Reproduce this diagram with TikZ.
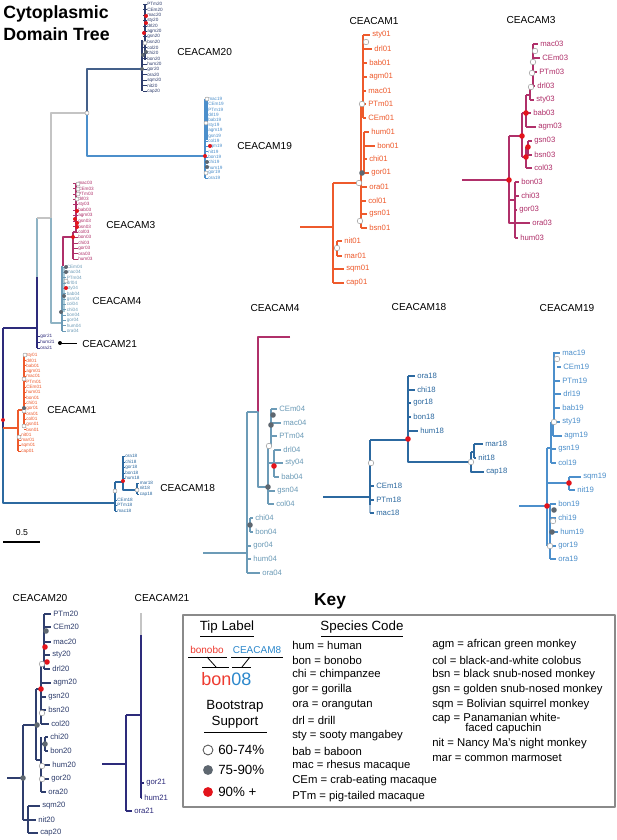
\documentclass[tikz,border=0pt]{standalone}
\usepackage{fontspec}
\setmainfont{Liberation Sans}
\definecolor{cA}{HTML}{EE5A2C}
\definecolor{cB}{HTML}{B0306A}
\definecolor{cC}{HTML}{6C9BB7}
\definecolor{cD}{HTML}{2C69A0}
\definecolor{cE}{HTML}{4C8FCB}
\definecolor{cF}{HTML}{2F3E6D}
\definecolor{cG}{HTML}{2D2B7B}
\definecolor{cS}{HTML}{44608A}
\definecolor{cL}{HTML}{C4C4C4}
\definecolor{cT}{HTML}{8FB3C4}
\definecolor{cTb}{HTML}{A9CBD9}
\definecolor{dg}{HTML}{5E6770}
\definecolor{dr}{HTML}{E3141B}
\definecolor{kred}{HTML}{EE3B30}
\definecolor{kblue}{HTML}{2C88CC}
\definecolor{kbox}{HTML}{8A8A8A}
\begin{document}
\begin{tikzpicture}[x=0.75pt,y=-0.75pt,line join=round]
\tikzset{
 ttl/.style={font=\fontsize{7.6}{9}\selectfont,inner sep=0},
 clab/.style={font=\fontsize{7.6}{9}\selectfont,inner sep=0,anchor=west},
 ptip/.style={font=\fontsize{5.8}{7}\selectfont,inner sep=0,anchor=west},
 mtip/.style={font=\fontsize{3.5}{4}\selectfont,inner sep=0,anchor=west},
 br/.style={line width=1.25pt},
 mb/.style={line width=0.9pt},
 stb/.style={line width=0.9pt},
 mst/.style={line width=0.35pt},
 wd/.style={fill=white,draw=gray!75,line width=0.4pt},
 gd/.style={fill=dg},
 rd/.style={fill=dr},
 ktxt/.style={font=\fontsize{8.5}{10}\selectfont,inner sep=0,anchor=west},
 khd/.style={font=\fontsize{10}{12}\selectfont,inner sep=0,align=center},
}
\fill[white] (0,0) rectangle (617,840);
\path[use as bounding box] (0,0) rectangle (617,840);

% ================= title
\node[font=\bfseries\fontsize{13.3}{16.5}\selectfont,align=left,anchor=north west,inner sep=0] (title) at (3,5) {Cytoplasmic\\Domain Tree};

% ================= main tree
\draw[mb,cG] (3,328) -- (3,428);
\draw[mb,cD] (3,428) -- (3,503) -- (115,503);
\draw[mb,cG] (3,328) -- (37,328);
\draw[mb,cT] (37,218) -- (37,277);
\draw[mb,cG] (37,277) -- (37,348);
\draw[mb,cL] (37,218) -- (51,218);
\draw[mb,cL] (51,218) -- (51,113) -- (87,113);
\draw[mb,cT] (51,218) -- (51,323) -- (62,323);
\draw[mb,cS] (87,113) -- (87,69) -- (142,69);
\draw[mb,cE] (87,113) -- (87,156) -- (205,156);
% CEACAM20 clade
\draw[mb,cF] (142,40) -- (142,91);
\draw[mb,cF] (145,4) -- (145,60);
\foreach \lab [count=\i from 0] in {PTm20,CEm20,mac20,sty20,drl20,agm20,gsn20,bsn20,col20,chi20,bon20,hum20,gor20,ora20,sqm20,nit20,cap20}{
  \pgfmathsetmacro\yy{4+\i*5.44}
  \draw[mst,cF] (143,\yy) -- (146.5,\yy);
  \node[mtip,text=cF] (m-\lab) at (147,\yy) {\lab};
}
% CEACAM19 clade
\draw[mb,cE] (205,99) -- (205,178);
\draw[mb,cE] (207,99) -- (207,140);
\foreach \lab [count=\i from 0] in {mac19,CEm19,PTm19,drl19,bab19,sty19,agm19,gsn19,col19,sqm19,nit19,bon19,chi19,hum19,gor19,ora19}{
  \pgfmathsetmacro\yy{99+\i*5.27}
  \draw[mst,cE] (205,\yy) -- (207.5,\yy);
  \node[mtip,text=cE] (m-\lab) at (208,\yy) {\lab};
}
% CEACAM3 clade
\draw[mb,cB] (63,266) -- (63,237) -- (73,237);
\draw[mb,cB] (76,183) -- (76,232) -- (73,232);
\draw[mb,cB] (73,232) -- (73,259);
\foreach \lab [count=\i from 0] in {mac03,CEm03,PTm03,drl03,sty03,bab03,agm03,gsn03,bsn03,col03,bon03,chi03,gor03,ora03,hum03}{
  \pgfmathsetmacro\yy{183+\i*5.43}
  \draw[mst,cB] (73,\yy) -- (77.5,\yy);
  \node[mtip,text=cB] (m-\lab) at (78,\yy) {\lab};
}
% CEACAM4 clade
\draw[line width=2.4pt,cTb] (63.5,267) -- (63.5,312);
\draw[mb,cC] (62,266) -- (62,331);
\foreach \lab [count=\i from 0] in {CEm04,mac04,PTm04,drl04,sty04,bab04,gsn04,col04,chi04,bon04,gor04,hum04,ora04}{
  \pgfmathsetmacro\yy{267+\i*5.33}
  \draw[mst,cC] (62,\yy) -- (66,\yy);
  \node[mtip,text=cC] (m-\lab) at (66.5,\yy) {\lab};
}
% CEACAM21 clade
\foreach \lab/\yy in {gor21/336,hum21/342,ora21/348}{
  \draw[mst,cG] (37,\yy) -- (39.5,\yy);
  \node[mtip,text=cG] (m-\lab) at (40,\yy) {\lab};
}
% CEACAM1 clade
\draw[mb,cA] (3,428) -- (18,428);
\draw[mb,cA] (18,410) -- (18,451);
\draw[mb,cA] (18,410) -- (24,410);
\draw[mb,cA] (24,355) -- (24,428);
\foreach \lab [count=\i from 0] in {sty01,drl01,bab01,agm01,mac01,PTm01,CEm01,hum01,bon01,chi01,gor01,ora01,col01,gsn01,bsn01}{
  \pgfmathsetmacro\yy{355+\i*5.33}
  \draw[mst,cA] (24,\yy) -- (25.5,\yy);
  \node[mtip,text=cA] (m-\lab) at (26,\yy) {\lab};
}
\foreach \lab [count=\i from 15] in {nit01,mar01,sqm01,cap01}{
  \pgfmathsetmacro\yy{355+\i*5.33}
  \draw[mst,cA] (18,\yy) -- (20.5,\yy);
  \node[mtip,text=cA] (m-\lab) at (21,\yy) {\lab};
}
% CEACAM18 clade
\draw[mb,cD] (115,482) -- (115,511);
\draw[mb,cD] (115,482) -- (123,482);
\draw[mb,cD] (123,456) -- (123,490) -- (137,490);
\draw[mb,cD] (137,483) -- (137,494);
\foreach \lab/\yy/\vx/\lx in {ora18/456/123/125,chi18/462/123/125,gor18/467/123/125,bon18/473/123/125,hum18/478/123/125,mar18/483/137/139.5,nit18/488/137/139.5,cap18/494/137/139.5,CEm18/500/115/117,PTm18/505/115/117,mac18/511/115/117}{
  \draw[mst,cD] (\vx,\yy) -- ({\lx-0.5},\yy);
  \node[mtip,text=cD] (m-\lab) at (\lx,\yy) {\lab};
}
% main dots
\foreach \p in {(87,113),(145,43),(207,99),(206,123),(206,173),(78,184),(78,189),(78,194),(77,199),(66,281),(25,355),(24,379),(24,411),(24,426),(19,437),(115,491),(137,490)}
  \path[wd] \p circle[radius=1.5pt];
\foreach \p in {(146,52),(143,55),(142,69),(207,162),(207,167),(66,267),(66,272),(64,296),(61,312),(24,408)}
  \path[gd] \p circle[radius=1.5pt];
\foreach \p in {(146,16),(146,23),(144,33),(210,146),(205,156),(77,211),(75,219),(77,223),(77,227),(73,237),(66,288),(3,420),(123,481)}
  \path[rd] \p circle[radius=1.5pt];
% clade labels
\node[clab] (l20) at (177,52) {CEACAM20};
\node[clab] (l19) at (237,146) {CEACAM19};
\node[clab] (l3) at (106,225) {CEACAM3};
\node[clab] (l4) at (92,301) {CEACAM4};
\node[fill=black,circle,inner sep=0,minimum size=3pt] (d21) at (60,343) {};
\node[clab] (l21) at (82,344) {CEACAM21};
\draw[line width=0.7pt] (d21.center) -- (77,343);
\node[clab] (l1) at (47,410) {CEACAM1};
\node[clab] (l18) at (160,488) {CEACAM18};
% scale bar
\node[font=\fontsize{6.5}{8}\selectfont,inner sep=0] (sc) at (22,533) {0.5};
\draw[line width=0.8pt] (3,542) -- (40,542);

% ================= CEACAM1 panel
\node[ttl] (t1) at (374,21) {CEACAM1};
\draw[br,cA] (300,227) -- (333,227);
\draw[br,cA] (333,183) -- (333,283);
\draw[br,cA] (333,183) -- (361,183);
\draw[br,cA] (361,104) -- (361,228);
\draw[br,cA] (363,35) -- (363,118);
\draw[br,cA] (361,104) -- (363,104);
\draw[br,cA] (364,132) -- (364,173) -- (361,173);
\draw[br,cA] (333,248) -- (337,248);
\draw[br,cA] (337,241) -- (337,256);
\foreach \lab/\yy/\vx/\lx in {sty01/35/363/372,drl01/49/363/374,bab01/63/363/369,agm01/77/363/369,mac01/91/363/368,PTm01/104/361/368,CEm01/118/363/368,hum01/132/364/371,bon01/146/364/377,chi01/159/364/369,gor01/173/364/371,ora01/187/361/369,col01/201/361/368,gsn01/214/361/369,bsn01/228/361/369,nit01/241/337/344,mar01/256/337/344,sqm01/269/333/346,cap01/283/333/346}{
  \draw[stb,cA] (\vx,\yy) -- ({\lx-2},\yy);
  \node[ptip,text=cA] (p-\lab) at (\lx,\yy) {\lab};
}
\foreach \p in {(366,42),(362,104),(359,183),(360,221),(337,248)}
  \path[wd] \p circle[radius=2.1pt];
\path[gd] (362,173) circle[radius=2.1pt];

% ================= CEACAM3 panel
\node[ttl] (t3) at (531,20) {CEACAM3};
\draw[br,cB] (462,180) -- (509,180);
\draw[br,cB] (509,136) -- (509,223) -- (530,223);
\draw[br,cB] (509,200) -- (515,200);
\draw[br,cB] (515,182) -- (515,238);
\draw[br,cB] (509,136) -- (522,136);
\draw[br,cB] (522,113) -- (522,157);
\draw[br,cB] (522,113) -- (526,113);
\draw[br,cB] (526,95) -- (526,127);
\draw[br,cB] (526,95) -- (530,95);
\draw[br,cB] (530,87) -- (530,100);
\draw[br,cB] (533,44) -- (533,87) -- (530,87);
\draw[br,cB] (522,157) -- (526,157);
\draw[br,cB] (526,147) -- (526,168);
\draw[br,cB] (526,147) -- (528,147);
\draw[br,cB] (528,141) -- (528,155);
\foreach \lab/\yy/\vx/\lx in {mac03/44/533/540,CEm03/58/533/542,PTm03/72/533/539,drl03/86/533/537,sty03/100/530/536,bab03/113/526/533,agm03/127/526/538,gsn03/141/528/534,bsn03/155/528/534,col03/168/526/534,bon03/182/515/521,chi03/196/515/521,gor03/210/515/519,ora03/223/530/532,hum03/238/515/520}{
  \draw[stb,cB] (\vx,\yy) -- ({\lx-2},\yy);
  \node[ptip,text=cB] (p-\lab) at (\lx,\yy) {\lab};
}
\foreach \p in {(535,51),(533,62),(532,73),(531,87)}
  \path[wd] \p circle[radius=2.1pt];
\foreach \p in {(509,180),(522,136),(526,113),(528,147),(526,157)}
  \path[rd] \p circle[radius=2.1pt];

% ================= CEACAM4 panel
\node[ttl] (t4) at (275,308) {CEACAM4};
\draw[br,cB] (290,337) -- (258,337) -- (258,412);
\draw[br,cC] (247,412) -- (258,412) -- (258,487) -- (268,487);
\draw[br,cC] (203,553) -- (247,553);
\draw[br,cC] (247,412) -- (247,573);
\draw[br,cC] (268,446) -- (268,504);
\draw[br,cC] (268,446) -- (271,446);
\draw[br,cC] (271,409) -- (271,446);
\draw[br,cC] (268,463) -- (274,463);
\draw[br,cC] (274,450) -- (274,477);
\draw[br,cC] (247,525) -- (250,525);
\draw[br,cC] (250,518) -- (250,532);
\foreach \lab/\yy/\vx/\lx in {CEm04/409/271/279,mac04/423/271/283,PTm04/436/271/279,drl04/450/274/283,sty04/463/274/285,bab04/477/274/281,gsn04/491/268/277,col04/504/268/276,chi04/518/250/255,bon04/532/250/255,gor04/546/247/253,hum04/559/247/253,ora04/573/247/262}{
  \draw[stb,cC] (\vx,\yy) -- ({\lx-2},\yy);
  \node[ptip,text=cC] (p-\lab) at (\lx,\yy) {\lab};
}
\foreach \p in {(273,415),(271,425),(268,487),(250,525)}
  \path[gd] \p circle[radius=2.1pt];
\path[wd] (269,446) circle[radius=2.1pt];
\path[rd] (274,466) circle[radius=2.1pt];

% ================= CEACAM18 panel
\node[ttl] (t18) at (419,307) {CEACAM18};
\draw[br,cD] (323,497) -- (370,497);
\draw[br,cD] (370,440) -- (370,505);
\draw[br,cD!45] (370,505) -- (370,513);
\draw[br,cD] (370,440) -- (408,440);
\draw[br,cD] (408,376) -- (408,462) -- (471,462);
\draw[br,cD] (471,452) -- (471,472) -- (483,472);
\draw[br,cD] (471,452) -- (474,452);
\draw[br,cD] (474,444) -- (474,458);
\foreach \lab/\yy/\vx/\lx in {ora18/376/408/417,chi18/390/408/417,gor18/403/408/413,bon18/417/408/413,hum18/431/408/420,mar18/444/474/485,nit18/458/474/478,cap18/472/471/486,CEm18/486/370/376,PTm18/500/370/376,mac18/513/370/376}{
  \draw[stb,cD] (\vx,\yy) -- ({\lx-2},\yy);
  \node[ptip,text=cD] (p-\lab) at (\lx,\yy) {\lab};
}
\path[wd] (371,463) circle[radius=2.1pt];
\path[wd] (471,462) circle[radius=2.1pt];
\path[rd] (408,439) circle[radius=2.1pt];

% ================= CEACAM19 panel
\node[ttl] (t19) at (567,308) {CEACAM19};
\draw[br,cE] (519,506) -- (547,506);
\draw[br,cE] (547,448) -- (547,546);
\draw[br,cE] (547,448) -- (551,448);
\draw[br,cE] (551,422) -- (551,463);
\draw[br,cE] (551,422) -- (554,422);
\draw[br,cE] (554,352) -- (554,422);
\draw[br,cE] (553,422) -- (553,436);
\draw[br,cE] (547,483) -- (569,483);
\draw[br,cE] (569,477) -- (569,490);
\draw[br,cE] (550,504) -- (550,559);
\foreach \lab/\yy/\vx/\lx in {mac19/353/554/562,CEm19/367/557/563,PTm19/381/554/562,drl19/394/555/563,bab19/408/554/562,sty19/422/554/562,agm19/436/553/564,gsn19/449/551/558,col19/463/551/558,sqm19/477/569/583,nit19/490/569/577,bon19/504/550/558,chi19/518/550/558,hum19/532/552/560,gor19/546/550/558,ora19/559/550/558}{
  \draw[stb,cE] (\vx,\yy) -- ({\lx-2},\yy);
  \node[ptip,text=cE] (p-\lab) at (\lx,\yy) {\lab};
}
\foreach \p in {(557,359),(554,422),(553,521),(550,546)}
  \path[wd] \p circle[radius=2.1pt];
\foreach \p in {(554,510),(552,532)}
  \path[gd] \p circle[radius=2.1pt];
\foreach \p in {(569,483),(547,506)}
  \path[rd] \p circle[radius=2.1pt];

% ================= CEACAM20 panel
\node[ttl] (t20) at (40,598) {CEACAM20};
\draw[br,cF] (7,778) -- (23,778);
\draw[br,cF] (23,725) -- (23,820);
\draw[br,cF] (23,725) -- (36,725);
\draw[br,cF] (36,689) -- (36,760);
\draw[br,cF] (36,689) -- (41,689);
\draw[br,cF] (41,664) -- (41,724);
\draw[br,cF] (41,664) -- (44,664);
\draw[br,cF] (44,614) -- (44,669);
\draw[br,cF] (36,760) -- (41,760);
\draw[br,cF] (41,737) -- (41,792);
\draw[br,cF] (41,744) -- (45,744);
\draw[br,cF] (45,737) -- (45,751);
\draw[br,cF] (23,820) -- (28,820);
\draw[br,cF] (28,806) -- (28,833);
\foreach \lab/\yy/\vx/\lx in {PTm20/614/44/53,CEm20/627/44/53,mac20/642/44/53,sty20/655/44/52,drl20/669/44/52,agm20/683/41/53,gsn20/697/41/48,bsn20/710/41/48,col20/724/41/51,chi20/737/45/50,bon20/751/45/50,hum20/765/41/52,gor20/779/41/51,ora20/792/41/48,sqm20/806/28/42,nit20/820/28/38,cap20/833/28/40}{
  \draw[stb,cF] (\vx,\yy) -- ({\lx-2},\yy);
  \node[ptip,text=cF] (p-\lab) at (\lx,\yy) {\lab};
}
\foreach \p in {(46,631),(37,725),(45,744),(23,778)}
  \path[gd] \p circle[radius=2.1pt];
\foreach \p in {(45,647),(47,662),(41,689)}
  \path[rd] \p circle[radius=2.1pt];
\foreach \p in {(42,664),(42,713),(42,766),(42,779)}
  \path[wd] \p circle[radius=2.1pt];

% ================= CEACAM21 panel
\node[ttl] (t21) at (162,598) {CEACAM21};
\draw[br,cL] (141,613) -- (141,635);
\draw[br,cG] (141,635) -- (141,798);
\draw[br,cG] (126,715) -- (141,715);
\draw[br,cG] (126,715) -- (126,811);
\draw[br,cG] (102,764) -- (126,764);
\foreach \lab/\yy/\vx/\lx in {gor21/783/141/146,hum21/798/141/144,ora21/811/126/134}{
  \draw[stb,cG] (\vx,\yy) -- ({\lx-2},\yy);
  \node[ptip,text=cG] (p-\lab) at (\lx,\yy) {\lab};
}

% ================= Key
\node[font=\bfseries\fontsize{13}{15}\selectfont,inner sep=0] (keyt) at (330,601) {Key};
\draw[kbox,line width=0.8pt] (183,615) rectangle (615,807);
\node[khd] (tipl) at (227,627) {Tip Label};
\draw[line width=0.6pt] (200,636) -- (254,636);
\node[khd] (spc) at (362,627) {Species Code};
\draw[line width=0.6pt] (321,636) -- (403,636);
\node[font=\fontsize{7.5}{9}\selectfont,inner sep=0,text=kred] (bonobo) at (207,650) {bonobo};
\draw[line width=0.6pt] (188,657) -- (227,657);
\node[font=\fontsize{7.5}{9}\selectfont,inner sep=0,text=kblue] (ceac8) at (257,650) {CEACAM8};
\draw[line width=0.6pt] (231,657) -- (283,657);
\draw[line width=0.6pt] (207,657) -- (216,667);
\draw[line width=0.6pt] (202,667) -- (229,667);
\draw[line width=0.6pt] (250,657) -- (242,667);
\draw[line width=0.6pt] (232,667) -- (251,667);
\node[font=\fontsize{13.5}{15}\selectfont,inner sep=0,anchor=west] (bon08) at (201,679) {\textcolor{kred}{bon}\textcolor{kblue}{08}};
\node[khd] (boot) at (235,714) {Bootstrap\\Support};
\draw[line width=0.6pt] (204,732) -- (267,732);
\path[wd,draw=black!70,line width=0.6pt] (208,750) circle[radius=3.7pt];
\path[gd] (208,770) circle[radius=3.7pt];
\path[rd] (208,792) circle[radius=3.7pt];
\node[khd,anchor=west] (b1) at (218,750) {60-74\%};
\node[khd,anchor=west] (b2) at (218,770) {75-90\%};
\node[khd,anchor=west] (b3) at (218,792) {90\% +};
\foreach \t/\yy [count=\i] in {hum = human/645,bon = bonobo/660,chi = chimpanzee/675,gor = gorilla/690,ora = orangutan/705,drl = drill/720,sty = sooty mangabey/736,bab = baboon/751,mac = rhesus macaque/766,CEm = crab-eating macaque/781,PTm = pig-tailed macaque/797}
  \node[ktxt] (ka-\i) at (292,\yy) {\t};
\foreach \t/\yy [count=\i] in {agm = african green monkey/645,col = black-and-white colobus/660,bsn = black snub-nosed monkey/675,gsn = golden snub-nosed monkey/690,sqm = Bolivian squirrel monkey/705,cap = Panamanian white-/719,nit = Nancy Ma’s night monkey/744,mar = common marmoset/758}
  \node[ktxt] (kb-\i) at (432,\yy) {\t};
\node[ktxt] (kb-cap2) at (465,729) {faced capuchin};
\end{tikzpicture}
\end{document}
